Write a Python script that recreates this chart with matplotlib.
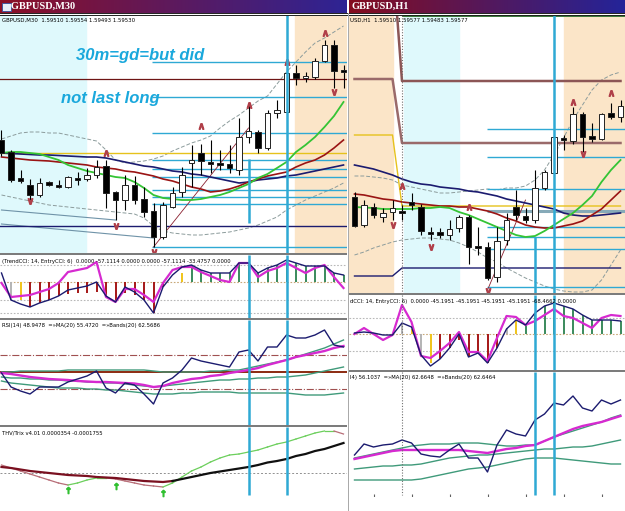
import numpy as np
import matplotlib.pyplot as plt

# Values are screen levels (larger number = lower on the chart)

# ---------------- GBPUSD M30 ----------------
m30_open = [140, 152, 178, 185, 195, 182, 185, 187, 178, 179, 175, 166, 192, 200, 185, 199, 211, 237, 207, 192,
            163, 153, 162, 163, 164, 170, 137, 132, 148, 113, 112, 73, 78, 77, 61, 45, 70]
m30_close = [153, 180, 181, 195, 183, 185, 187, 177, 180, 175, 167, 193, 200, 185, 200, 212, 237, 205, 193, 175,
             160, 161, 164, 165, 168, 137, 131, 148, 113, 110, 73, 78, 76, 61, 45, 71, 72]
m30_high = [130, 150, 170, 179, 178, 181, 180, 176, 172, 168, 160, 160, 191, 175, 176, 187, 203, 202, 187, 167,
            145, 144, 140, 150, 145, 118, 103, 130, 110, 100, 68, 65, 72, 58, 40, 40, 65]
m30_low = [156, 182, 183, 200, 197, 186, 188, 188, 185, 181, 178, 208, 220, 210, 204, 217, 247, 239, 208, 197,
           187, 175, 173, 170, 173, 175, 143, 153, 150, 118, 113, 85, 82, 79, 62, 88, 88]
m30_ma_blue = [153, 153.5, 154, 154.5, 155, 155, 155.5, 156, 156.5, 157, 157, 158, 160, 162, 164, 166, 167, 169, 171,
               172, 174, 175, 177, 179, 181, 183, 182, 180, 179, 178, 176, 175, 173, 171, 169, 167, 165]
m30_ma_red = [157, 158, 159, 160, 160.5, 161, 162, 163, 164, 165, 167, 168, 169, 171, 172, 174, 176, 179, 181, 184,
              187, 189, 192, 191, 189, 186, 182, 179, 176, 174, 172, 167, 163, 160, 155, 148, 140]
m30_ma_green = [153, 152, 152, 153, 154, 157, 160, 165, 168, 171, 173, 175, 177, 178, 182, 188, 195, 198, 199, 200,
                200, 199, 197, 195, 192, 188, 184, 178, 174, 168, 162, 152, 145, 137, 127, 116, 102]
m30_band_up = [139, 136, 133, 132, 132, 133, 133, 135, 137, 139, 141, 150, 160, 163, 162, 161, 159, 156, 151, 147,
               143, 140, 136, 128, 121, 115, 108, 101, 96, 84, 72, 62, 52, 43, 38, 32, 26]
m30_band_dn = [195, 197, 199, 201, 203, 205, 206, 207, 208, 209, 210, 211, 212, 213, 214, 218, 226, 231, 233, 234,
               235, 235, 234, 233, 232, 230, 228, 225, 221, 217, 210, 205, 200, 196, 192, 188, 183]
m30_frac_up_bar = [11, 21, 26, 30, 34]
m30_frac_up_lvl = [153, 126, 105, 62, 33]
m30_frac_dn_bar = [3, 12, 16, 35]
m30_frac_dn_lvl = [201, 226, 252, 92]
m30_cyan_levels = [62, 97, 133, 160, 169, 177, 190, 197, 204, 247]
m30_red_level, m30_navy_level, m30_yellow_level = 79, 226, 153
m30_channel_a = ([0, 12], [210, 220])
m30_channel_b = ([0, 16], [224, 238])
m30_trend = ([16, 26], [247, 128])
m30_vlines = [26, 30]

m30_cci_trend = [273, 300, 304, 307, 303, 300, 296, 290, 288, 286, 282, 296, 302, 287, 292, 300, 313, 287, 275, 267,
                 265, 270, 273, 273, 273, 263, 263, 273, 268, 265, 260, 263, 266, 266, 266, 273, 275]
m30_cci_entry = [283, 297, 296, 295, 292, 289, 283, 272, 270, 268, 262, 297, 302, 289, 289, 295, 302, 283, 270, 267,
                 267, 272, 276, 280, 282, 263, 263, 277, 271, 268, 263, 268, 273, 268, 265, 277, 288]
m30_cci_hist = [282, 300, 300, 307, 303, 300, 296, 294, 293, 293, 292, 296, 302, 293, 295, 300, 313, 287, 282, 273,
                265, 270, 273, 273, 273, 263, 263, 273, 268, 265, 260, 263, 266, 266, 266, 273, 275]
m30_cci_state = list('ngy' + 'r' * 15 + 'ny' + 'G' * 17)

m30_rsi = [373, 387, 391, 394, 387, 387, 387, 382, 379, 376, 371, 388, 393, 383, 385, 394, 404, 383, 378, 370,
           358, 361, 363, 365, 367, 352, 350, 361, 347, 347, 335, 338, 338, 335, 330, 345, 347]
m30_rsi_ma = [373, 374, 375.5, 377, 378, 379, 379.5, 380, 381, 381.5, 382, 382, 382.5, 383, 383.5, 385, 387, 386,
              383, 381, 379, 378, 376, 375, 373, 371.5, 370, 368, 365, 362.5, 360, 357, 355, 353, 351, 348, 346]
m30_rsi_bup = [372, 372, 371, 371, 371, 371, 371, 370, 370, 370, 370, 370, 370, 370, 370, 370, 371, 372, 372, 372,
               372, 372, 371, 371, 370, 370, 368, 366, 364, 362, 360, 357, 354, 351, 348, 344, 340]
m30_rsi_bmid = [377, 378, 378, 379, 379, 380, 380, 381, 381, 382, 382, 383, 383, 384, 385, 386, 387, 386, 385, 384,
                383, 382, 381, 380, 380, 379, 379, 378, 378, 377, 377, 376, 375, 373, 371, 369, 367]
m30_rsi_bdn = [381, 383, 384, 385, 386, 387, 388, 388, 388, 389, 389, 390, 390, 391, 392, 393, 394, 394, 394, 393,
               393, 392, 392, 392, 392, 393, 393, 393, 393, 393, 393, 394, 395, 395, 395, 394, 393]

m30_trix = [467, 468, 469.5, 471, 472, 473, 474, 475, 475.5, 476, 477, 477.5, 478, 479, 480, 481, 481.5, 482, 481,
            479, 477, 475, 473, 471.5, 470, 468.5, 467, 465, 462.5, 461, 459, 456, 454, 451, 449, 446, 443]
m30_trix_sig = [465, 468, 471, 474, 477, 480, 483, 485, 483, 480, 478, 478, 479, 481, 483, 485, 486, 487, 483, 477,
                471, 467, 462, 458, 455, 454, 452, 450, 447, 444, 442, 439, 436, 433, 431, 431, 434]
m30_sig_green = [0] * 7 + [1] * 4 + [0] * 6 + [1] * 18 + [0]
m30_thv_arrow_bar = [7, 12, 17]
m30_thv_arrow_lvl = [490, 486, 493]

# ---------------- GBPUSD H1 ----------------
h1_open = [197, 225, 207, 217, 212, 211, 202, 207, 232, 232, 235, 228, 217, 246, 247, 277, 240, 207, 216, 220,
           188, 173, 138, 141, 114, 136, 139, 113, 117]
h1_close = [226, 205, 215, 213, 208, 213, 205, 231, 234, 235, 229, 217, 247, 248, 278, 241, 220, 215, 220, 188,
            172, 137, 140, 114, 137, 139, 114, 117, 106]
h1_high = [192, 200, 203, 208, 200, 205, 193, 204, 227, 228, 220, 215, 215, 227, 242, 227, 213, 190, 208, 170,
           170, 136, 135, 107, 112, 123, 113, 103, 100]
h1_low = [227, 227, 218, 222, 220, 220, 210, 235, 240, 238, 240, 232, 264, 255, 280, 282, 245, 220, 223, 223,
          190, 174, 150, 144, 152, 142, 140, 119, 122]
h1_ma_blue = [165, 167, 169, 172, 175, 179, 182, 184, 185, 187, 188, 189, 191, 192, 194, 196, 199, 201, 203, 205,
              207, 209, 213, 215, 216, 216, 215, 214, 213]
h1_ma_red = [194, 195, 197, 199, 200, 202, 203, 204, 205, 206, 206, 207, 207, 209, 211, 214, 218, 221, 225, 227,
             228, 228, 226, 224, 221, 215, 209, 200, 191]
h1_ma_green = [207, 207.5, 208, 209, 209, 209, 209, 208, 208, 207, 208, 212, 215, 219, 223, 227, 231, 235, 237, 236,
               231, 225, 219, 213, 205, 196, 182, 170, 160]
h1_band_up = [176, 176, 177, 178, 180, 185, 187, 189, 191, 193, 193, 192, 191, 190, 189, 190, 188, 188, 186, 180,
              170, 155, 138, 120, 105, 90, 80, 75, 72]
h1_band_dn = [255, 252, 248, 245, 242, 240, 239, 238, 238, 239, 240, 243, 247, 252, 258, 262, 268, 273, 278, 282,
              286, 289, 291, 292, 292, 290, 280, 265, 250]
h1_yellow = [135] * 5 + [206] * 24
h1_brown_hi = [-46] * 5 + [81] * 24
h1_brown_lo = [79] * 5 + [143] * 24
h1_navy_lo = [276] * 5 + [268] * 24
h1_frac_up_bar = [5, 12, 23, 27]
h1_frac_up_lvl = [186, 207, 102, 93]
h1_frac_dn_bar = [4, 8, 14, 24]
h1_frac_dn_lvl = [225, 247, 291, 154]
h1_cyan_levels = [129, 157, 189, 227, 237, 249, 287]
h1_grey_level = 211
h1_trend = ([14, 18], [290, 200])
h1_vlines = [19, 21]
h1_dotted_bar = 5

h1_cci_trend = [333, 332, 333, 335, 335, 323, 327, 355, 366, 359, 348, 334, 357, 353, 363, 348, 329, 320, 325, 313,
                306, 303, 306, 309, 315, 320, 320, 320, 321]
h1_cci_entry = [334, 328, 334, 340, 335, 305, 322, 356, 358, 351, 343, 332, 352, 352, 361, 338, 316, 317, 325, 321,
                315, 309, 316, 318, 323, 328, 318, 315, 316]
h1_cci_hist = [334, 334, 334, 334, 334, 323, 329, 355, 363, 359, 348, 340, 357, 353, 363, 348, 328, 321, 325, 313,
               306, 303, 306, 309, 315, 320, 320, 320, 321]
h1_cci_state = list('nnnnngygy' + 'r' * 7 + 'gy' + 'G' * 11)

h1_rsi = [455, 444, 447, 445, 444, 440, 443, 454, 456, 457, 450, 444, 458, 458, 472, 445, 430, 434, 436, 420,
          414, 403, 405, 396, 408, 411, 400, 404, 400]
h1_rsi_ma = [459, 457, 455, 453, 451, 450, 450, 450, 450, 450, 450, 450, 451, 452, 453, 451, 449, 448, 446, 445,
             441, 437, 433, 429, 426, 424, 422, 419, 416]
h1_rsi_bup = [458, 456, 454, 452, 450, 448, 446, 445, 444, 444, 444, 443, 443, 443, 444, 445, 446, 446, 445, 445,
              441, 437, 434, 431, 428, 425, 422, 418, 415]
h1_rsi_bmid = [469, 468, 467, 466, 466, 465, 465, 464, 462, 460, 458, 457, 456, 455, 455, 454, 453, 452, 451, 450,
               449, 449, 448, 447, 447, 446, 444, 442, 440]
h1_rsi_bdn = [480, 480, 480, 480, 480, 480, 480, 479, 477, 475, 473, 471, 469, 468, 467, 465, 463, 461, 459, 458,
              458, 458, 459, 460, 461, 462, 463, 464, 464]
h1_tick_bars = [2, 6, 10, 14, 18, 22, 26]

# ---------------- drawing ----------------
W, H = 625, 511
fig = plt.figure(figsize=(W / 100, H / 100), dpi=100)
fig.patch.set_facecolor('white')

NAVY, DRED, GREEN, GOLD = '#1b1b6f', '#9a1414', '#35c435', '#e6c21c'
CYAN, MAG, TEAL = '#2fa9d4', '#d62ad0', '#3f9a7a'
LCYAN, PEACH = '#dff9fc', '#fbe5c8'
FRAC = '#b0404a'
HCOL = {'g': '#b4b4b4', 'y': '#f0c419', 'r': '#a51616', 'G': '#3a8a5c'}

LX = ((0 - 1.5) / 9.5, (347 - 1.5) / 9.5)
RX = ((349 - 354.5) / 9.5, (625 - 354.5) / 9.5)


def rect(x0, x1, y0, y1):
    return [x0 / W, 1 - y1 / H, (x1 - x0) / W, (y1 - y0) / H]


def panel(x0, x1, y0, y1, xlim):
    ax = fig.add_axes(rect(x0, x1, y0, y1))
    ax.set_xlim(xlim)
    ax.set_ylim(y1, y0)
    ax.set_xticks([])
    ax.set_yticks([])
    for s in ax.spines.values():
        s.set_visible(False)
    return ax


def ftext(x, y, s, **kw):
    fig.text(x / W, 1 - y / H, s, va='center', ha='left', **kw)


def title_bar(x0, x1, label, c0, c1):
    ax = fig.add_axes(rect(x0, x1, 0, 13))
    t = np.linspace(0, 1, 256)[:, None]
    cols = (1 - t) * np.array(c0) + t * np.array(c1)
    ax.imshow(cols[None, :, :], aspect='auto', extent=(0, 1, 0, 1))
    ax.axis('off')
    ftext(x0 + 3, 6.5, label, color='white', fontsize=7.5, fontweight='bold', family='Liberation Serif')


def candles(ax, o, c, h, l):
    x = np.arange(len(o))
    o, c = np.array(o, float), np.array(c, float)
    top, bot = np.minimum(o, c), np.maximum(o, c)
    ax.vlines(x, h, l, color='black', lw=0.8, zorder=5)
    colors = ['white' if cc < oo else 'black' for oo, cc in zip(o, c)]
    ax.bar(x, np.maximum(bot - top, 1.5), bottom=top, width=0.55, color=colors,
           edgecolor='#222222', lw=0.7, zorder=6)


def fractals(ax, ub, ul, db, dl):
    ax.plot(ub, ul, ls='none', marker=r'$\wedge$', ms=4, color=FRAC, zorder=7)
    ax.plot(db, dl, ls='none', marker=r'$\vee$', ms=4, color=FRAC, zorder=7)


def cci(ax, trend, entry, hist, state, zero):
    x = np.arange(len(trend))
    for i, s in enumerate(state):
        if s != 'n':
            ax.vlines(i, zero, hist[i], color=HCOL[s], lw=1.4, zorder=2)
    ax.plot(x, trend, color=NAVY, lw=1.0, zorder=4)
    ax.plot(x, entry, color=MAG, lw=1.6, zorder=3)


def rsi(ax, r, ma, bu, bm, bd):
    x = np.arange(len(r))
    for b in (bu, bm, bd):
        ax.plot(x, b, color=TEAL, lw=1.0, zorder=2)
    ax.plot(x, ma, color=MAG, lw=1.7, zorder=3)
    ax.plot(x, r, color=NAVY, lw=1.0, zorder=4)


# title bars
title_bar(0, 347, '   GBPUSD,M30', (0.55, 0.06, 0.15), (0.18, 0.14, 0.58))
title_bar(349, 625, 'GBPUSD,H1', (0.52, 0.05, 0.12), (0.14, 0.14, 0.60))
fig.add_artist(plt.Rectangle((2 / W, 1 - 11 / H), 9 / W, 8 / H, transform=fig.transFigure,
                             facecolor='#e8eef8', edgecolor='#3050a0', lw=0.6))
for xa, xb in ((0, 347), (349, 625)):
    for yy in (13.5, 15):
        fig.add_artist(plt.Line2D([xa / W, xb / W], [1 - yy / H] * 2, color='#202020', lw=0.7))

# ---------- M30 main ----------
ax = panel(0, 347, 15, 253, LX)
ax.axvspan(LX[0], 8.9, color=LCYAN, zorder=0)
ax.axvspan(30.9, LX[1], color=PEACH, zorder=0)
x = np.arange(len(m30_open))
ax.plot(x, m30_band_up, color='#8c9c9c', lw=0.7, ls=(0, (4, 2)), zorder=1)
ax.plot(x, m30_band_dn, color='#8c9c9c', lw=0.7, ls=(0, (4, 2)), zorder=1)
ax.plot(*m30_channel_a, color='#6f93a8', lw=0.8, zorder=1)
ax.plot(*m30_channel_b, color='#6f93a8', lw=0.8, zorder=1)
ax.axhline(m30_red_level, color='#6e1414', lw=0.9, zorder=2)
ax.axhline(m30_navy_level, color=NAVY, lw=1.0, zorder=2)
ax.axhline(m30_yellow_level, color=GOLD, lw=1.0, zorder=2)
ax.hlines(m30_cyan_levels, 15.85, LX[1], color=CYAN, lw=1.0, zorder=2)
ax.plot(*m30_trend, color='#8a2030', lw=0.6, zorder=3)
ax.plot(x, m30_ma_blue, color=NAVY, lw=1.2, zorder=3)
ax.plot(x, m30_ma_red, color=DRED, lw=1.2, zorder=3)
ax.plot(x, m30_ma_green, color=GREEN, lw=1.3, zorder=3)
candles(ax, m30_open, m30_close, m30_high, m30_low)
fractals(ax, m30_frac_up_bar, m30_frac_up_lvl, m30_frac_dn_bar, m30_frac_dn_lvl)
ax.vlines(m30_vlines[1], 15, 253, color=CYAN, lw=1.8, zorder=8)
ax.vlines(m30_vlines[0], 159, 223, color=CYAN, lw=1.8, zorder=8)
ftext(2, 20, 'GBPUSD,M30  1.59510 1.59554 1.59493 1.59530', fontsize=3.9, color='black')
ftext(76, 55, '30m=gd=but did', fontsize=12, color='#1aa8dc', fontweight='bold', style='italic',
      family='Liberation Sans')
ftext(61, 98, 'not last long', fontsize=12, color='#1aa8dc', fontweight='bold', style='italic',
      family='Liberation Sans')

# ---------- M30 CCI ----------
ax = panel(0, 347, 255, 318, LX)
for lv, c in ((265, '#b8b8b8'), (300, '#b8b8b8'), (313, '#b8b8b8'), (282, '#c8a878')):
    ax.axhline(lv, color=c, lw=0.8, ls=(0, (1.5, 1.5)), zorder=1)
cci(ax, m30_cci_trend, m30_cci_entry, m30_cci_hist, m30_cci_state, 282)
ax.vlines(m30_vlines, 255, 318, color=CYAN, lw=1.8, zorder=8)
ftext(2, 261, '(TrendCCI: 14, EntryCCI: 6)  0.0000 -57.1114 0.0000 0.0000 -57.1114 -33.4757 0.0000',
      fontsize=3.8, color='black')

# ---------- M30 RSI ----------
ax = panel(0, 347, 320, 425, LX)
ax.axhline(355, color='#a05050', lw=0.8, ls='-.', zorder=1)
ax.axhline(389, color='#a05050', lw=0.8, ls='-.', zorder=1)
ax.axhline(372, color='#8b2a10', lw=1.4, zorder=1)
rsi(ax, m30_rsi, m30_rsi_ma, m30_rsi_bup, m30_rsi_bmid, m30_rsi_bdn)
ax.vlines(m30_vlines, 320, 425, color=CYAN, lw=1.8, zorder=8)
ftext(2, 326, 'RSI(14) 48.9478  =»MA(20) 55.4720  =»Bands(20) 62.5686', fontsize=3.8, color='black')

# ---------- M30 THV / Trix ----------
ax = panel(0, 347, 427, 511, LX)
ax.axhline(473, color='#909090', lw=0.7, ls=(0, (2, 2)), zorder=1)
x = np.arange(len(m30_trix))
ax.plot(x[:19], m30_trix[:19], color='#7a1020', lw=1.6, zorder=3)
ax.plot(x[18:], m30_trix[18:], color='#101010', lw=1.6, zorder=3)
for i in range(len(m30_trix_sig) - 1):
    col = '#6ccf5c' if m30_sig_green[i] else '#b86e78'
    ax.plot(x[i:i + 2], m30_trix_sig[i:i + 2], color=col, lw=0.9, zorder=2)
ax.plot(m30_thv_arrow_bar, m30_thv_arrow_lvl, ls='none', marker=r'$\uparrow$', ms=4.5, color='#30c030')
ax.vlines(m30_vlines, 427, 495, color=CYAN, lw=1.8, zorder=8)
ftext(2, 433, 'THV/Trix v4.01 0.0000354 -0.0001755', fontsize=3.8, color='black')

# separators
for y0, y1 in ((253, 255), (318, 320), (425, 427)):
    fig.add_artist(plt.Rectangle((0, 1 - y1 / H), 347 / W, (y1 - y0) / H, transform=fig.transFigure,
                                 color='#7c7c7c', lw=0))
for y0, y1 in ((293, 295), (370, 372)):
    fig.add_artist(plt.Rectangle((349 / W, 1 - y1 / H), 276 / W, (y1 - y0) / H, transform=fig.transFigure,
                                 color='#7c7c7c', lw=0))

# ---------- H1 main ----------
ax = panel(349, 625, 15, 293, RX)
ax.axvspan(RX[0], 4.05, color=PEACH, zorder=0)
ax.axvspan(5.2, 11.0, color=LCYAN, zorder=0)
ax.axvspan(22.05, RX[1], color=PEACH, zorder=0)
x = np.arange(len(h1_open))
ax.plot(x, h1_band_up, color='#8c9c9c', lw=0.7, ls=(0, (4, 2)), zorder=1)
ax.plot(x, h1_band_dn, color='#8c9c9c', lw=0.7, ls=(0, (4, 2)), zorder=1)
ax.hlines(15.8, h1_dotted_bar, RX[1], color='#3a7a3a', lw=1.4, zorder=2)
ax.plot(x, h1_brown_hi, color='#8c5656', lw=1.8, zorder=2)
ax.plot(x, h1_brown_lo, color='#9a6a6a', lw=1.8, zorder=2)
ax.plot(x, h1_navy_lo, color=NAVY, lw=1.0, zorder=2)
ax.plot(x, h1_yellow, color=GOLD, lw=1.0, zorder=2)
ax.hlines(h1_cyan_levels, 13.9, RX[1], color=CYAN, lw=1.0, zorder=2)
ax.hlines(h1_grey_level, 13.9, RX[1], color='#86aab8', lw=2.2, zorder=2)
ax.plot(*h1_trend, color='#8a2030', lw=0.6, zorder=3)
ax.plot(x, h1_ma_blue, color=NAVY, lw=1.2, zorder=3)
ax.plot(x, h1_ma_red, color=DRED, lw=1.2, zorder=3)
ax.plot(x, h1_ma_green, color=GREEN, lw=1.3, zorder=3)
candles(ax, h1_open, h1_close, h1_high, h1_low)
fractals(ax, h1_frac_up_bar, h1_frac_up_lvl, h1_frac_dn_bar, h1_frac_dn_lvl)
ax.vlines(h1_dotted_bar, 15, 293, color='#707070', lw=0.8, ls=(0, (1, 1.5)), zorder=4)
ax.vlines(h1_vlines[1], 15, 293, color=CYAN, lw=1.8, zorder=8)
ax.vlines(h1_vlines[0], 237, 293, color=CYAN, lw=1.8, zorder=8)
ftext(350, 20, 'USD,H1  1.59510 1.59577 1.59483 1.59577', fontsize=3.9, color='black')

# ---------- H1 CCI ----------
ax = panel(349, 625, 295, 370, RX)
for lv, c in ((318, '#b8b8b8'), (351, '#b8b8b8'), (334, '#c8a878')):
    ax.axhline(lv, color=c, lw=0.8, ls=(0, (1.5, 1.5)), zorder=1)
cci(ax, h1_cci_trend, h1_cci_entry, h1_cci_hist, h1_cci_state, 334)
ax.vlines(h1_dotted_bar, 295, 370, color='#707070', lw=0.8, ls=(0, (1, 1.5)), zorder=4)
ax.vlines(h1_vlines, 295, 370, color=CYAN, lw=1.8, zorder=8)
ftext(350, 302, 'dCCI: 14, EntryCCI: 6)  0.0000 -45.1951 -45.1951 -45.1951 -45.1951 -68.4662 0.0000',
      fontsize=3.8, color='black')

# ---------- H1 RSI ----------
ax = panel(349, 625, 372, 497, RX)
rsi(ax, h1_rsi, h1_rsi_ma, h1_rsi_bup, h1_rsi_bmid, h1_rsi_bdn)
ax.vlines(h1_dotted_bar, 372, 495, color='#707070', lw=0.8, ls=(0, (1, 1.5)), zorder=4)
ax.vlines(h1_vlines, 372, 495, color=CYAN, lw=1.8, zorder=8)
ax.vlines(h1_tick_bars, 494, 497, color='#606060', lw=0.8)
ftext(350, 378, 'I4) 56.1037  =»MA(20) 62.6648  =»Bands(20) 62.6464', fontsize=3.8, color='black')

fig.add_artist(plt.Line2D([348 / W] * 2, [1 - 13 / H, 0], color='#9a9a9a', lw=0.6))

fig.savefig('out.png', dpi=100)
